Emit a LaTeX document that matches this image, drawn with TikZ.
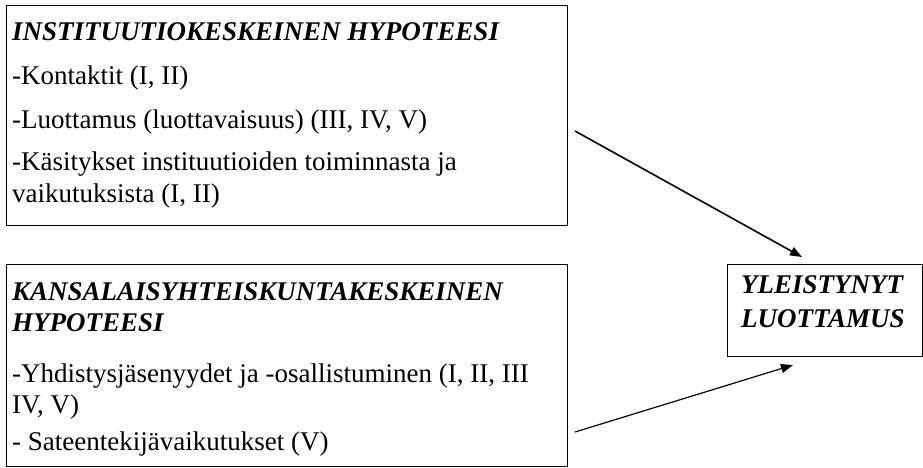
\documentclass[tikz,border=0pt]{standalone}
\usepackage{fontspec}
\setmainfont{Liberation Serif}
\usetikzlibrary{arrows.meta}
\begin{document}
\begin{tikzpicture}[x=1pt,y=-1pt,
  boxstyle/.style={draw=black,line width=1pt,rectangle,inner sep=0pt},
  txt/.style={anchor=base west,inner sep=0pt,font=\fontsize{27}{31}\selectfont},
  ttl/.style={txt,font=\fontsize{27}{31}\selectfont\bfseries\itshape},
  conn/.style={line width=1.2pt,-{Triangle[length=12pt,width=9pt]}}]
\useasboundingbox (0,0) rectangle (923,467);
% boxes
\node[boxstyle,minimum width=561pt,minimum height=220pt,anchor=north west] (box1) at (6,5) {};
\node[boxstyle,minimum width=561pt,minimum height=202pt,anchor=north west] (box2) at (6,264) {};
\node[boxstyle,minimum width=195pt,minimum height=92pt,anchor=north west] (box3) at (727,264) {};
% box 1 text
\node[ttl] (t1) at (12,40) {INSTITUUTIOKESKEINEN HYPOTEESI};
\node[txt] (t2) at (12,84) {-Kontaktit (I, II)};
\node[txt] (t3) at (12,128) {-Luottamus (luottavaisuus) (III, IV, V)};
\node[txt] (t4) at (12,170) {-Käsitykset instituutioiden toiminnasta ja};
\node[txt] (t5) at (12,202) {vaikutuksista (I, II)};
% box 2 text
\node[ttl] (u1) at (12,300) {KANSALAISYHTEISKUNTAKESKEINEN};
\node[ttl] (u2) at (12,331) {HYPOTEESI};
\node[txt] (u3) at (12,382) {-Yhdistysjäsenyydet ja -osallistuminen (I, II, III};
\node[txt] (u4) at (12,413) {IV, V)};
\node[txt] (u5) at (12,450) {- Sateentekijävaikutukset (V)};
% box 3 text
\node[ttl] (v1) at (741,293) {YLEISTYNYT};
\node[ttl] (v2) at (741,327) {LUOTTAMUS};
% arrows
\coordinate (a1s) at (575,131);
\coordinate (a1e) at (802,257);
\coordinate (a2s) at (575,432);
\coordinate (a2e) at (793,365);
\draw[conn,line width=1.6pt] (a1s) -- (a1e);
\draw[conn] (a2s) -- (a2e);
\end{tikzpicture}
\end{document}
